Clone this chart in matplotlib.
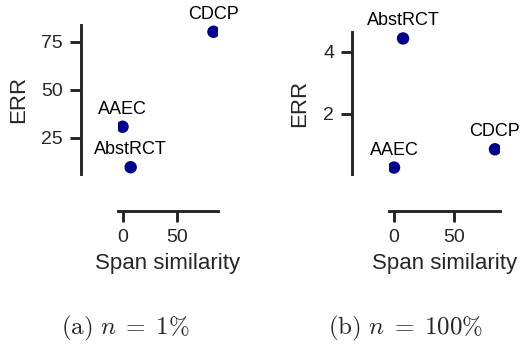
import matplotlib
matplotlib.use("Agg")
import matplotlib.pyplot as plt
import seaborn as sns

datasets = ["AAEC", "AbstRCT", "CDCP"]
span_similarity = [0.0, 7.5, 84.0]
err_1pct = [30.8, 9.7, 80.3]
err_100pct = [0.26, 4.43, 0.85]
captions = [r"$\mathrm{(a)}\ n\;=\;1\%$", r"$\mathrm{(b)}\ n\;=\;100\%$"]

sns.set_style("ticks")
plt.rcParams["font.family"] = ["Liberation Sans", "DejaVu Sans"]
plt.rcParams["mathtext.fontset"] = "cm"

dark = "#262626"
fig = plt.figure(figsize=(5.22, 3.46), dpi=100)

# axes boxes in figure pixels (left, top, right, bottom)
boxes = [(118, 25, 218, 174), (389, 32, 500, 174)]
caption_x = [125, 405]
W, H = 522, 346


def scatter_panel(ax, xs, ys):
    ax.scatter(xs, ys, s=80, color="#00008B", edgecolor="none", zorder=3)
    for name, x, y in zip(datasets, xs, ys):
        ax.annotate(name, (x, y), xytext=(0, 6.5), textcoords="offset points",
                    ha="center", va="bottom", fontsize=13, color="black",
                    annotation_clip=False)
    ax.set_xlabel("Span similarity", fontsize=16, color=dark, labelpad=5)
    ax.set_ylabel("ERR", fontsize=16, color=dark, labelpad=9)
    ax.tick_params(labelsize=14, length=8, width=2.1, colors=dark, pad=5)
    for side in ["left", "bottom"]:
        ax.spines[side].set_linewidth(2.1)
        ax.spines[side].set_color(dark)
    ax.set_xticks([0, 50])
    sns.despine(ax=ax, offset=26.6)


for i, (l, t, r, b) in enumerate(boxes):
    ax = fig.add_axes([l / W, 1 - b / H, (r - l) / W, (b - t) / H])
    ys = err_1pct if i == 0 else err_100pct
    scatter_panel(ax, span_similarity, ys)
    if i == 0:
        ax.set_yticks([25, 50, 75])
    else:
        ax.set_yticks([2, 4])
    fig.text(caption_x[i] / W, 1 - 328 / H, captions[i], ha="center", va="center", fontsize=18)

fig.savefig("out.png", dpi=100)
